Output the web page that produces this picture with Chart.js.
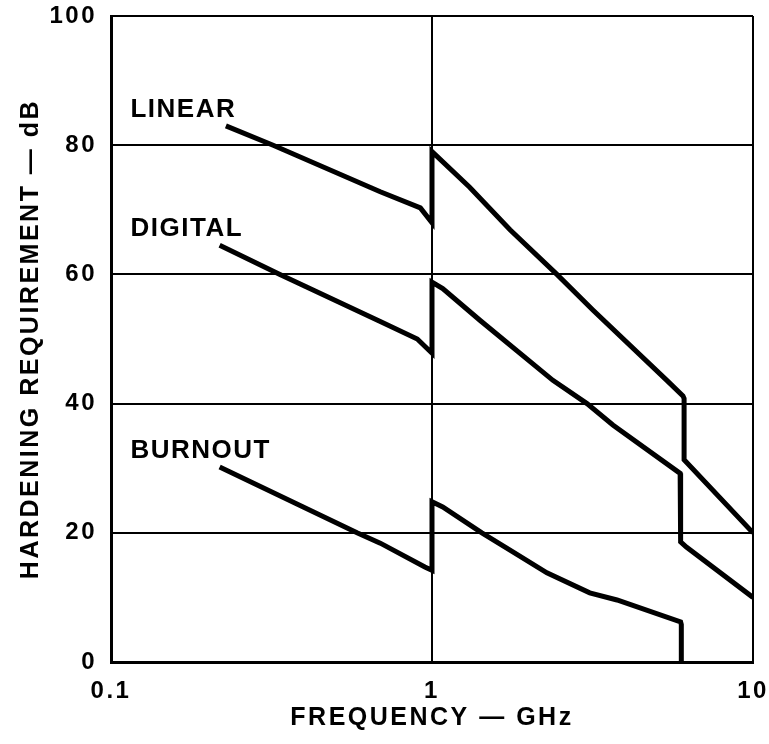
<!DOCTYPE html>
<html>
<head>
<meta charset="utf-8">
<script src="https://cdn.jsdelivr.net/npm/chart.js@4/dist/chart.umd.min.js"></script>
<style>
html,body{margin:0;padding:0;background:#fff;}
#wrap{width:769px;height:744px;position:relative;}
</style>
</head>
<body>
<div id="wrap"><canvas id="c" width="769" height="744"></canvas></div>
<script>
// ---- data (frequency in GHz, hardening requirement in dB) ----
const xTickValues = [0.1, 1, 10];
const yTickValues = [0, 20, 40, 60, 80, 100];
const seriesNames = ["LINEAR", "DIGITAL", "BURNOUT"];

const linearX = [0.228, 0.32, 0.69, 0.92, 1.0, 1.0, 1.31, 1.75, 2.45, 3.17, 5.39, 6.05, 6.1, 6.1, 10];
const linearY = [83, 80, 72.8, 70.3, 68, 79, 73.5, 66.9, 60, 54.5, 43.6, 41.2, 40.8, 31.3, 20];

const digitalX = [0.218, 0.336, 0.69, 0.9, 1.0, 1.0, 1.08, 1.41, 2.38, 3.04, 3.66, 5.93, 5.95, 5.95, 6.2, 10];
const digitalY = [64.5, 60, 52.7, 50.0, 47.8, 58.8, 57.8, 52.9, 43.6, 40, 36.7, 29.2, 28.8, 18.6, 17.8, 10];

const burnoutX = [0.218, 0.584, 0.69, 0.95, 1.0, 1.0, 1.08, 1.43, 1.75, 2.28, 3.1, 3.77, 5.95, 5.98, 5.98];
const burnoutY = [30.2, 20, 18.4, 14.7, 14.2, 24.8, 24, 20, 17.3, 13.8, 10.7, 9.6, 6.2, 5.8, 0];

function pts(xs, ys){ return xs.map((x,i)=>({x:x, y:ys[i]})); }

const FONT = "'Liberation Sans', Arial, Helvetica, sans-serif";

const labelPlugin = {
  id: 'seriesLabels',
  afterDatasetsDraw(chart){
    const ctx = chart.ctx;
    const xs = chart.scales.x, ys = chart.scales.y;
    ctx.save();
    ctx.fillStyle = '#000';
    ctx.font = "bold 26px " + FONT;
    ctx.letterSpacing = '1.5px';
    ctx.textAlign = 'left';
    ctx.textBaseline = 'alphabetic';
    chart.data.datasets.forEach((ds) => {
      const p = ds.data[0];
      const px = xs.getPixelForValue(0.115);
      const py = ys.getPixelForValue(p.y) - 9;
      ctx.fillText(ds.label, px, py);
    });
    ctx.restore();
  }
};

const spacingPlugin = {
  id: 'spacing',
  beforeDraw(chart){ chart.ctx.letterSpacing = '2.5px'; }
};

function noPad(scale){
  scale.paddingTop = 0; scale.paddingBottom = 0;
  scale.paddingLeft = 0; scale.paddingRight = 0;
}

new Chart(document.getElementById('c'), {
  type: 'line',
  data: {
    datasets: [
      {label: seriesNames[0], data: pts(linearX, linearY)},
      {label: seriesNames[1], data: pts(digitalX, digitalY)},
      {label: seriesNames[2], data: pts(burnoutX, burnoutY)}
    ].map(d => Object.assign(d, {
      borderColor: '#000', borderWidth: 5, pointRadius: 0, tension: 0,
      fill: false, borderJoinStyle: 'miter', borderCapStyle: 'butt'
    }))
  },
  options: {
    responsive: false,
    animation: false,
    devicePixelRatio: 1,
    layout: {padding: {left: 0, right: 16, top: 16, bottom: 0}},
    plugins: {legend: {display: false}, tooltip: {enabled: false}},
    scales: {
      x: {
        type: 'logarithmic', min: 0.1, max: 10,
        afterBuildTicks(scale){ scale.ticks = xTickValues.map(v => ({value: v})); },
        afterFit(scale){ scale.height = 82; noPad(scale); },
        ticks: {
          color: '#000', padding: 15, maxRotation: 0,
          font: {family: FONT, size: 24, weight: 'bold'},
          callback: (v) => String(v)
        },
        grid: {color: '#000', lineWidth: 2, drawTicks: false},
        border: {color: '#000', width: 3},
        title: {
          display: true, text: 'FREQUENCY — GHz', color: '#000',
          font: {family: FONT, size: 25, weight: 'bold'},
          padding: {top: 4, bottom: 11}
        }
      },
      y: {
        type: 'linear', min: 0, max: 100,
        afterBuildTicks(scale){ scale.ticks = yTickValues.map(v => ({value: v})); },
        afterFit(scale){ scale.width = 111; noPad(scale); },
        ticks: {
          color: '#000', padding: 14,
          font: {family: FONT, size: 24, weight: 'bold'}
        },
        grid: {color: '#000', lineWidth: 2, drawTicks: false},
        border: {color: '#000', width: 3},
        title: {
          display: true, text: 'HARDENING REQUIREMENT — dB', color: '#000',
          font: {family: FONT, size: 25, weight: 'bold'},
          padding: {top: 16, bottom: 0}
        }
      }
    }
  },
  plugins: [spacingPlugin, labelPlugin]
});
</script>
</body>
</html>
